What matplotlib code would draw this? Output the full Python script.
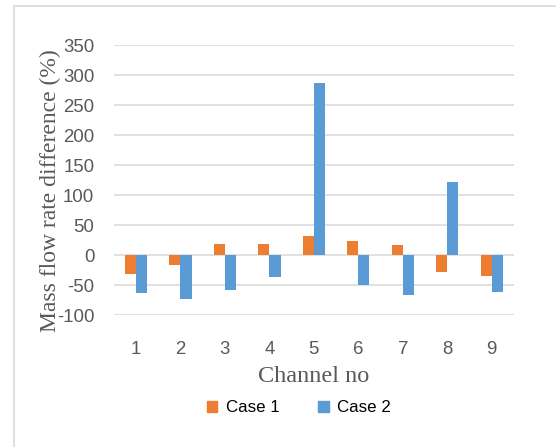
import numpy as np
import matplotlib
matplotlib.use("Agg")
import matplotlib.pyplot as plt
from matplotlib.patches import Patch
from matplotlib.lines import Line2D

# mass flow rate difference per channel (%)
channels = ["1", "2", "3", "4", "5", "6", "7", "8", "9"]
case1 = [-32, -17, 18, 19, 32, 23, 17, -29, -35]
case2 = [-64, -74, -59, -36, 286, -50, -67, 122, -62]
yticks = [-100, -50, 0, 50, 100, 150, 200, 250, 300, 350]

orange = "#ED7D31"
blue = "#5B9BD5"
grey_txt = "#595959"

W, H = 556, 447
fig = plt.figure(figsize=(W / 100, H / 100), dpi=100)
ax = fig.add_axes([113.75 / W, 1 - 315 / H, (514 - 113.75) / W, 270 / H])

x = np.arange(len(channels))
bw = 0.25
ax.bar(x - bw / 2, case1, bw, color=orange, zorder=3)
ax.bar(x + bw / 2, case2, bw, color=blue, zorder=3)

ax.set_xlim(-0.5, len(channels) - 0.5)
ax.set_ylim(-100, 350)
ax.set_yticks(yticks)
ax.set_yticklabels([str(v) for v in yticks])
ax.set_xticks(x)
ax.set_xticklabels(channels)
ax.yaxis.grid(True, color="#d9d9d9", linewidth=1.1, zorder=0)
ax.set_axisbelow(True)
for s in ax.spines.values():
    s.set_visible(False)
ax.tick_params(axis="y", length=0, pad=14, labelsize=13.4, labelcolor=grey_txt)
ax.tick_params(axis="x", length=0, pad=19, labelsize=13.4, labelcolor=grey_txt)
for lab in ax.get_xticklabels() + ax.get_yticklabels():
    lab.set_fontfamily("Liberation Sans")

fig.text(314 / W, 1 - 377 / H, "Channel no", ha="center", va="center",
         family="Liberation Serif", fontsize=17.5, color=grey_txt)
fig.text(50 / W, 1 - 191 / H, "Mass flow rate difference (%)", rotation=90,
         ha="center", va="center", family="Liberation Serif", fontsize=17,
         color=grey_txt)

handles = [Patch(color=orange, label="Case 1"), Patch(color=blue, label="Case 2")]
fig.legend(handles=handles, loc="center", bbox_to_anchor=(299 / W, 1 - 408 / H),
           ncol=2, frameon=False, handlelength=0.6, handleheight=0.6,
           handletextpad=0.5, columnspacing=2.3,
           prop={"family": "Liberation Sans", "size": 12.2})

# chart frame
fig.add_artist(Line2D([14 / W, 14 / W], [0, 1 - 6 / H], transform=fig.transFigure,
                      color="#d9d9d9", linewidth=1.2))
fig.add_artist(Line2D([14 / W, 1], [1 - 6 / H, 1 - 6 / H], transform=fig.transFigure,
                      color="#d9d9d9", linewidth=1.2))

fig.savefig("out.png", dpi=100)
